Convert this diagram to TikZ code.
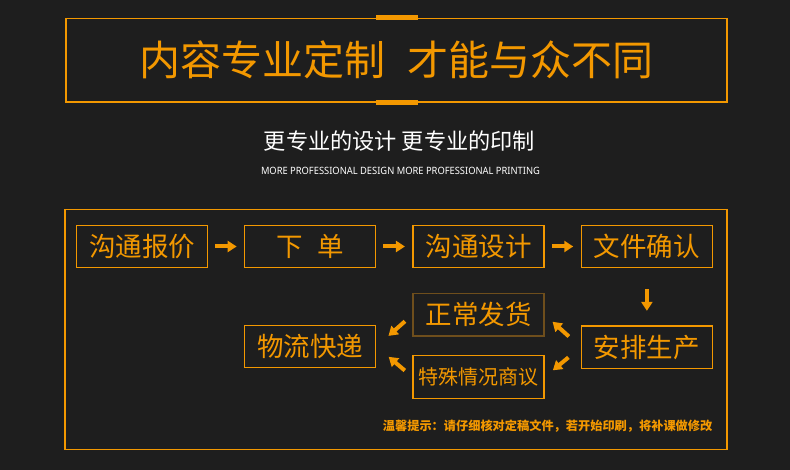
\documentclass[tikz,border=0pt]{standalone}
\usepackage{fontspec}
\usepackage{graphicx}
\setmainfont{Noto Sans}
\newfontfamily\cjk{Noto Sans CJK SC}
\usetikzlibrary{positioning,arrows.meta}
\definecolor{bgdark}{HTML}{1E1E1E}
\definecolor{gold}{HTML}{F39800}
\definecolor{dimgold}{HTML}{6E4E1C}

\tikzset{
  stepbox/.style={draw=gold, line width=1.3pt, minimum width=131pt, minimum height=42.4pt,
    inner sep=0pt, text=gold, font=\cjk\fontsize{26.5}{26.5}\selectfont},
  flow/.style={-{Triangle[length=9pt,width=11pt]}, draw=gold, line width=4pt},
}

\begin{document}
\begin{tikzpicture}[x=1pt, y=-1pt, node distance=36pt]
\fill[bgdark] (0,0) rectangle (790,470);
\useasboundingbox (0,0) rectangle (790,470);

% heading
\node[draw=gold, line width=1.4pt, minimum width=661pt, minimum height=83.7pt, inner sep=0pt,
  text=gold, font=\cjk\fontsize{41}{41}\selectfont] (title) at (396.5,60.2) {内容专业定制\hspace{0.55em}才能与众不同};
\fill[gold] ([xshift=-21pt,yshift=2.4pt]title.north) rectangle ([xshift=21pt,yshift=-2.4pt]title.north);
\fill[gold] ([xshift=-21pt,yshift=2.4pt]title.south) rectangle ([xshift=21pt,yshift=-2.4pt]title.south);

\node[text=white, font=\cjk\fontsize{22.2}{22.2}\selectfont] (slogan) at (399.5,140.7) {更专业的设计 更专业的印制};
\node[text=white, inner sep=0pt] (sloganen) at (400.5,170.7)
  {\resizebox{279pt}{7.3pt}{MORE PROFESSIONAL DESIGN MORE PROFESSIONAL PRINTING}};

% process frame
\draw[draw=gold, line width=1.3pt] (65,209.3) rectangle (727,449.7);

\node[stepbox] (quote) at (142,246.5) {沟通报价};
\node[stepbox, right=of quote] (order) {下\hspace{0.55em}单};
\node[stepbox, right=of order] (design) {沟通设计};
\node[stepbox, right=of design] (confirm) {文件确认};
\node[stepbox, below=57pt of confirm] (produce) {安排生产};
\node[stepbox, draw=dimgold] (ship) at (478.6,314.7) {正常发货};
\node[stepbox, font=\cjk\fontsize{20}{20}\selectfont] (special) at (478.6,377) {特殊情况商议};
\node[stepbox] (express) at (310.3,346.5) {物流快递};

\draw[flow, shorten <=7pt, shorten >=7.5pt] (quote) -- (order);
\draw[flow, shorten <=7pt, shorten >=7.5pt] (order) -- (design);
\draw[flow, shorten <=7pt, shorten >=7.5pt] (design) -- (confirm);
\draw[flow, shorten <=21pt, shorten >=14.5pt] (confirm) -- (produce);
\draw[flow, shorten <=16pt, shorten >=10.5pt] (produce.west) -- (ship.east);
\draw[flow, shorten <=16pt, shorten >=10.5pt] (produce.west) -- (special.east);
\draw[flow, shorten <=10pt, shorten >=16pt] (ship.west) -- (express.east);
\draw[flow, shorten <=10pt, shorten >=16pt] (special.west) -- (express.east);

\node[text=gold, inner sep=0pt, anchor=east, font=\cjk\bfseries\fontsize{12.2}{12.2}\selectfont] (notice) at (712.5,425.7)
  {温馨提示：请仔细核对定稿文件，若开始印刷，将补课做修改};
\end{tikzpicture}
\end{document}
